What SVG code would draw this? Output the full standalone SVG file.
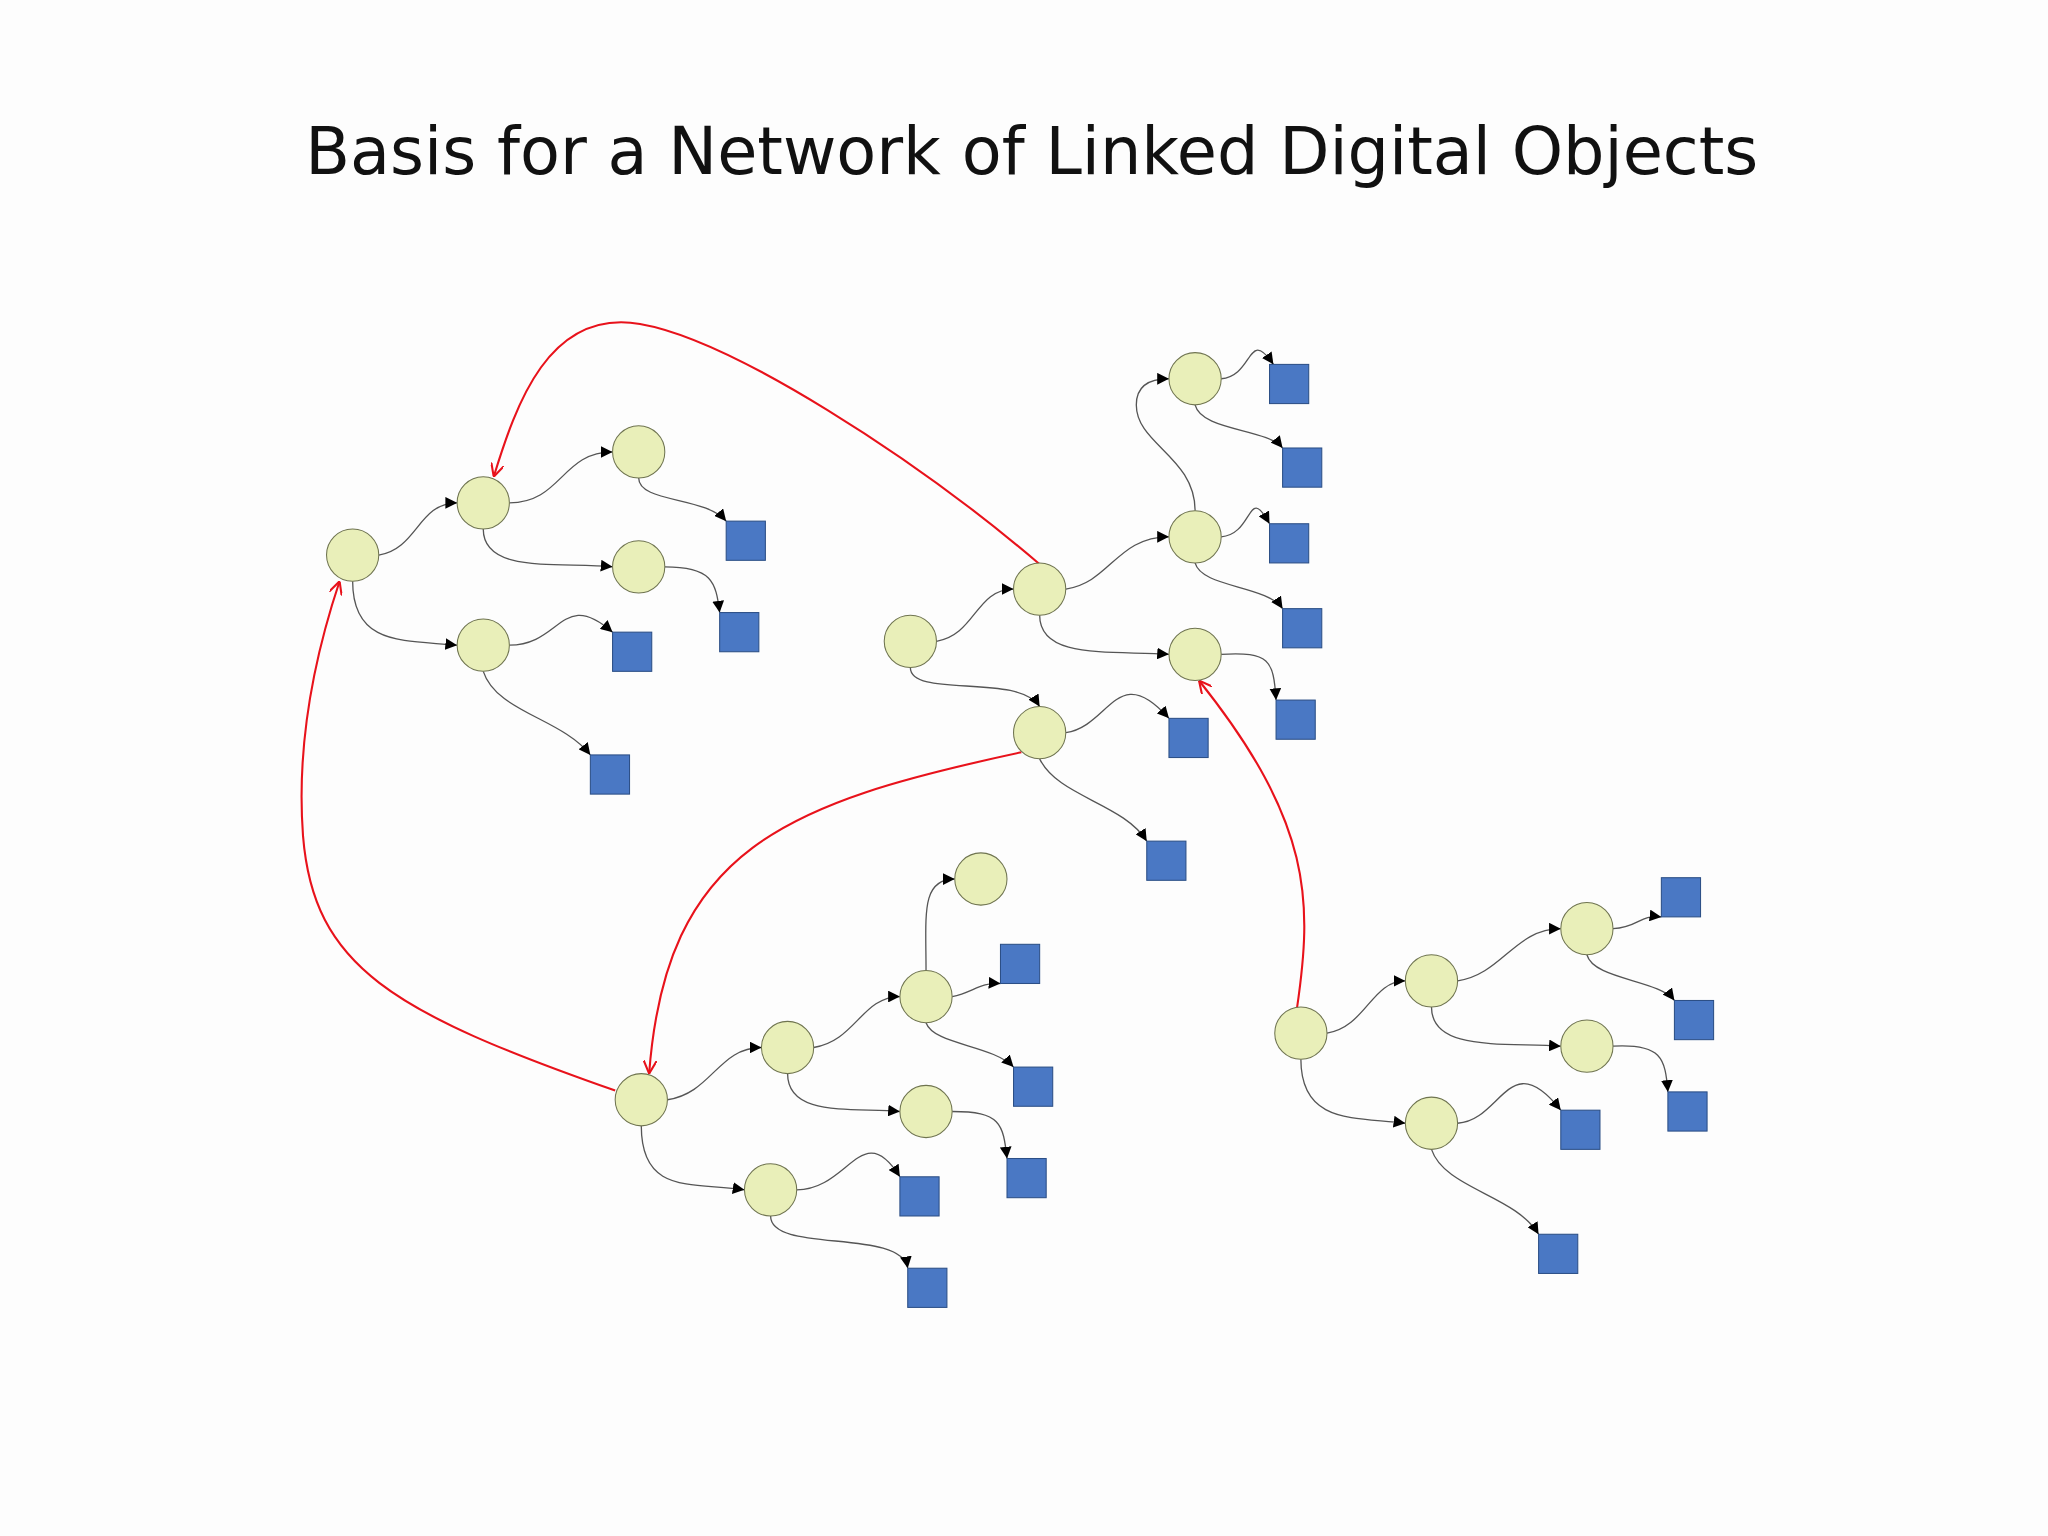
<svg xmlns="http://www.w3.org/2000/svg" width="2048" height="1536" viewBox="0 0 2048 1536">
<style>
.n{fill:#e9efb9;stroke:#6f7450;stroke-width:0.8}
.s{fill:#4a78c4;stroke:#2c4f86;stroke-width:0.8}
.e{fill:none;stroke:#555;stroke-width:1;marker-end:url(#ab)}
.r{fill:none;stroke:#e8121b;stroke-width:1.6;marker-end:url(#ar)}
</style>
<defs>
<marker id="ab" viewBox="0 0 10 10" refX="10" refY="5" markerWidth="9" markerHeight="9" markerUnits="userSpaceOnUse" orient="auto"><path d="M0,0 L10,5 L0,10 z" fill="#000"/></marker>
<marker id="ar" viewBox="0 0 10 10" refX="10" refY="5" markerWidth="10" markerHeight="10" markerUnits="userSpaceOnUse" orient="auto"><path d="M0,0 L10,5 L0,10" fill="none" stroke="#e8121b" stroke-width="1.6"/></marker>
</defs>
<rect width="2048" height="1536" fill="#fdfdfd"/>
<g transform="scale(1.3061)">
<text x="790" y="133" text-anchor="middle" font-family="'DejaVu Sans', sans-serif" font-size="50" fill="#111">Basis for a Network of Linked Digital Objects</text>
<g id="connectors">
<path class="e" d="M290,425 C320,420 320,385 350,385"/>
<path class="e" d="M270,445 C270,495 310,490 350,494"/>
<path class="e" d="M390,385 C430,385 430,346 469,346"/>
<path class="e" d="M370,405 C370,440 430,430 469,434"/>
<path class="e" d="M489,366 C489,385 540,380 556,399"/>
<path class="e" d="M509,434 C545,434 548,445 551,469"/>
<path class="e" d="M390,494 C430,494 430,450 469,484"/>
<path class="e" d="M370,514 C380,545 430,550 452,578"/>
<path class="e" d="M717,491 C747,486 747,451 776,451"/>
<path class="e" d="M697,511 C697,535 780,515 796,541"/>
<path class="e" d="M816,451 C850,446 855,411 895,411"/>
<path class="e" d="M796,471 C796,505 850,498 895,501"/>
<path class="e" d="M915,391 C915,350 870,340 870,310 C870,295 880,290 895,290"/>
<path class="e" d="M935,290 C960,288 955,250 975,279"/>
<path class="e" d="M915,310 C920,330 970,328 982,343"/>
<path class="e" d="M935,411 C960,409 955,370 972,401"/>
<path class="e" d="M915,431 C920,450 970,448 982,466"/>
<path class="e" d="M935,501 C972,499 975,505 977,536"/>
<path class="e" d="M816,561 C850,556 855,505 895,550"/>
<path class="e" d="M796,581 C810,610 860,615 878,644"/>
<path class="e" d="M511,842 C545,837 550,802 583,802"/>
<path class="e" d="M491,862 C491,915 530,905 570,911"/>
<path class="e" d="M623,802 C655,797 660,763 689,763"/>
<path class="e" d="M603,822 C603,855 650,848 689,851"/>
<path class="e" d="M709,743 C709,700 705,673 731,673"/>
<path class="e" d="M729,763 C745,760 750,752 766,753"/>
<path class="e" d="M709,783 C715,800 760,800 776,817"/>
<path class="e" d="M729,851 C766,851 768,860 771,887"/>
<path class="e" d="M610,911 C650,911 660,855 689,901"/>
<path class="e" d="M590,931 C590,960 690,940 695,971"/>
<path class="e" d="M1016,791 C1046,786 1050,751 1076,751"/>
<path class="e" d="M996,811 C996,862 1040,855 1076,860"/>
<path class="e" d="M1116,751 C1150,746 1160,711 1195,711"/>
<path class="e" d="M1096,771 C1096,805 1150,798 1195,801"/>
<path class="e" d="M1235,711 C1255,710 1255,700 1272,702"/>
<path class="e" d="M1215,731 C1220,750 1270,750 1282,766"/>
<path class="e" d="M1235,801 C1272,799 1275,810 1277,836"/>
<path class="e" d="M1116,860 C1150,858 1155,800 1195,850"/>
<path class="e" d="M1096,880 C1106,910 1160,915 1178,945"/>
<path class="r" d="M796,432 C700,350 560,260 490,248 C420,236 395,310 378,365"/>
<path class="r" d="M782,576 C600,615 510,650 497,822"/>
<path class="r" d="M471,835 C300,775 240,740 232,640 C226,560 245,490 260,445"/>
<path class="r" d="M993,772 C1005,690 1005,630 918,521"/>
</g>
<g id="A1"><circle class="n" cx="270" cy="425" r="20"/></g>
<g id="A2"><circle class="n" cx="370" cy="385" r="20"/></g>
<g id="A3"><circle class="n" cx="370" cy="494" r="20"/></g>
<g id="A4"><circle class="n" cx="489" cy="346" r="20"/></g>
<g id="A5"><circle class="n" cx="489" cy="434" r="20"/></g>
<g id="AS1"><rect class="s" x="556" y="399" width="30" height="30"/></g>
<g id="AS2"><rect class="s" x="551" y="469" width="30" height="30"/></g>
<g id="AS3"><rect class="s" x="469" y="484" width="30" height="30"/></g>
<g id="AS4"><rect class="s" x="452" y="578" width="30" height="30"/></g>
<g id="B1"><circle class="n" cx="697" cy="491" r="20"/></g>
<g id="B2"><circle class="n" cx="796" cy="451" r="20"/></g>
<g id="B3"><circle class="n" cx="796" cy="561" r="20"/></g>
<g id="B4"><circle class="n" cx="915" cy="411" r="20"/></g>
<g id="B5"><circle class="n" cx="915" cy="501" r="20"/></g>
<g id="B6"><circle class="n" cx="915" cy="290" r="20"/></g>
<g id="BS1"><rect class="s" x="972" y="279" width="30" height="30"/></g>
<g id="BS2"><rect class="s" x="982" y="343" width="30" height="30"/></g>
<g id="BS3"><rect class="s" x="972" y="401" width="30" height="30"/></g>
<g id="BS4"><rect class="s" x="982" y="466" width="30" height="30"/></g>
<g id="BS5"><rect class="s" x="977" y="536" width="30" height="30"/></g>
<g id="BS6"><rect class="s" x="895" y="550" width="30" height="30"/></g>
<g id="BS7"><rect class="s" x="878" y="644" width="30" height="30"/></g>
<g id="C1"><circle class="n" cx="491" cy="842" r="20"/></g>
<g id="C2"><circle class="n" cx="603" cy="802" r="20"/></g>
<g id="C3"><circle class="n" cx="590" cy="911" r="20"/></g>
<g id="C4"><circle class="n" cx="709" cy="763" r="20"/></g>
<g id="C5"><circle class="n" cx="709" cy="851" r="20"/></g>
<g id="C6"><circle class="n" cx="751" cy="673" r="20"/></g>
<g id="CS1"><rect class="s" x="766" y="723" width="30" height="30"/></g>
<g id="CS2"><rect class="s" x="776" y="817" width="30" height="30"/></g>
<g id="CS3"><rect class="s" x="771" y="887" width="30" height="30"/></g>
<g id="CS4"><rect class="s" x="689" y="901" width="30" height="30"/></g>
<g id="CS5"><rect class="s" x="695" y="971" width="30" height="30"/></g>
<g id="D1"><circle class="n" cx="996" cy="791" r="20"/></g>
<g id="D2"><circle class="n" cx="1096" cy="751" r="20"/></g>
<g id="D3"><circle class="n" cx="1096" cy="860" r="20"/></g>
<g id="D4"><circle class="n" cx="1215" cy="711" r="20"/></g>
<g id="D5"><circle class="n" cx="1215" cy="801" r="20"/></g>
<g id="DS1"><rect class="s" x="1272" y="672" width="30" height="30"/></g>
<g id="DS2"><rect class="s" x="1282" y="766" width="30" height="30"/></g>
<g id="DS3"><rect class="s" x="1277" y="836" width="30" height="30"/></g>
<g id="DS4"><rect class="s" x="1195" y="850" width="30" height="30"/></g>
<g id="DS5"><rect class="s" x="1178" y="945" width="30" height="30"/></g>
</g>
</svg>
